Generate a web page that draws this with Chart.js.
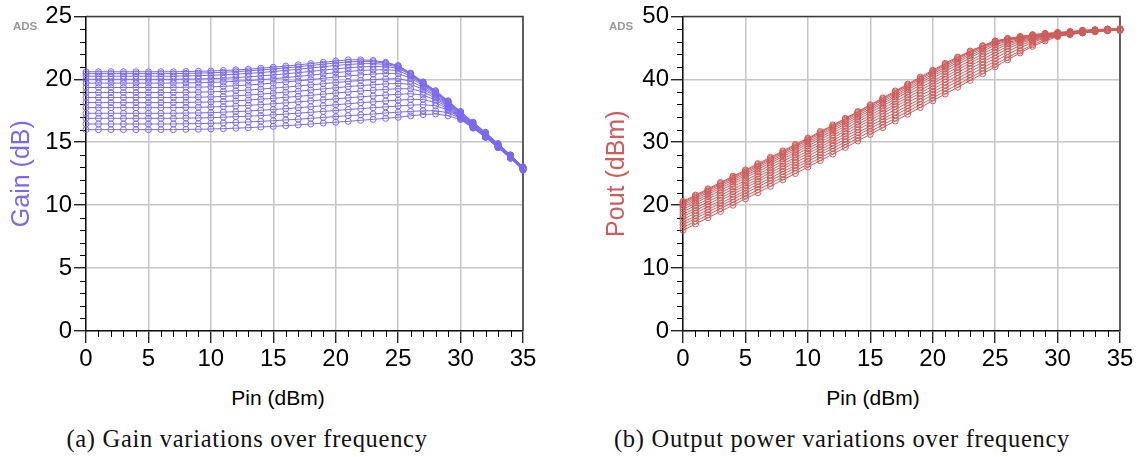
<!DOCTYPE html>
<html>
<head>
<meta charset="utf-8">
<script src="https://cdn.jsdelivr.net/npm/chart.js@4.4.1/dist/chart.umd.min.js"></script>
<style>
  body { margin: 0; background: #fff; }
  #page { position: relative; width: 1142px; height: 457px; overflow: hidden; }
  .panel { position: absolute; top: 0; width: 571px; height: 380px; }
  .ads { position: absolute; top: 20px; font: bold 11.5px "Liberation Sans", Arial, sans-serif; line-height: 13px; color: #9a9a9a; }
  .xtitle { position: absolute; top: 386px; font: 21px "Liberation Sans", Arial, sans-serif; line-height: 24px; color: #000; transform: translateX(-50%); white-space: nowrap; }
  .caption { position: absolute; top: 425px; font: 24.5px "Liberation Serif", "Times New Roman", serif; line-height: 28px; letter-spacing: 0.7px; color: #111; transform: translateX(-50%); white-space: nowrap; }
</style>
</head>
<body>
<div id="page">
  <div class="panel" style="left:0"><canvas id="gainChart" width="571" height="380"></canvas></div>
  <div class="panel" style="left:571px"><canvas id="poutChart" width="571" height="380"></canvas></div>
  <div class="ads" style="left:13px">ADS</div>
  <div class="ads" style="left:609px">ADS</div>
  <div class="xtitle" style="left:278px">Pin (dBm)</div>
  <div class="xtitle" style="left:873px">Pin (dBm)</div>
  <div class="caption" style="left:247px">(a) Gain variations over frequency</div>
  <div class="caption" style="left:842px">(b) Output power variations over frequency</div>
</div>
<script>
// input power sweep (dBm)
const pinValues = [0,1,2,3,4,5,6,7,8,9,10,11,12,13,14,15,16,17,18,19,20,21,22,23,24,25,26,27,28,29,30,31,32,33,34,35];

// gain (dB), one trace per frequency, top to bottom
const gainF01 = [20.6,20.6,20.6,20.6,20.6,20.6,20.6,20.6,20.62,20.64,20.66,20.7,20.75,20.8,20.88,20.96,21.05,21.15,21.25,21.35,21.45,21.55,21.55,21.5,21.35,21.1,20.5,19.8,19.1,18.3,17.45,16.6,15.8,14.9,14.0,13.05];
const gainF02 = [20.45,20.45,20.45,20.45,20.45,20.45,20.45,20.45,20.47,20.49,20.52,20.56,20.61,20.67,20.74,20.82,20.91,21.0,21.1,21.2,21.3,21.38,21.42,21.4,21.28,21.05,20.45,19.75,19.05,18.25,17.4,16.55,15.75,14.85,13.98,13.02];
const gainF03 = [20.25,20.25,20.25,20.25,20.25,20.25,20.25,20.25,20.27,20.29,20.32,20.36,20.41,20.47,20.54,20.62,20.71,20.8,20.9,21.0,21.1,21.18,21.24,21.25,21.18,20.98,20.4,19.7,19.0,18.2,17.35,16.5,15.7,14.82,13.95,13.0];
const gainF04 = [20.0,20.0,20.0,20.0,20.0,20.0,20.0,20.0,20.02,20.03,20.05,20.09,20.14,20.2,20.27,20.35,20.44,20.53,20.63,20.73,20.83,20.92,20.99,21.02,21.0,20.88,20.35,19.65,18.95,18.15,17.3,16.45,15.66,14.8,13.93,12.98];
const gainF05 = [19.7,19.7,19.7,19.7,19.7,19.7,19.7,19.7,19.72,19.73,19.75,19.79,19.84,19.9,19.97,20.05,20.14,20.23,20.33,20.43,20.53,20.62,20.7,20.75,20.76,20.7,20.25,19.6,18.9,18.1,17.25,16.42,15.63,14.77,13.9,12.96];
const gainF06 = [19.35,19.35,19.35,19.35,19.35,19.35,19.35,19.35,19.37,19.38,19.4,19.44,19.49,19.55,19.62,19.7,19.79,19.88,19.98,20.08,20.18,20.27,20.35,20.42,20.46,20.45,20.1,19.5,18.82,18.05,17.2,16.38,15.6,14.75,13.88,12.94];
const gainF07 = [18.95,18.95,18.95,18.95,18.95,18.95,18.95,18.95,18.97,18.98,19.0,19.04,19.09,19.15,19.22,19.3,19.38,19.47,19.56,19.65,19.74,19.83,19.91,19.98,20.03,20.05,19.85,19.35,18.72,17.98,17.15,16.34,15.57,14.72,13.86,12.92];
const gainF08 = [18.55,18.55,18.55,18.55,18.55,18.55,18.55,18.55,18.57,18.58,18.6,18.64,18.69,18.75,18.82,18.9,18.98,19.06,19.15,19.24,19.33,19.42,19.5,19.57,19.63,19.67,19.6,19.2,18.62,17.9,17.1,16.3,15.54,14.7,13.84,12.9];
const gainF09 = [18.15,18.15,18.15,18.15,18.15,18.15,18.15,18.15,18.17,18.18,18.2,18.24,18.29,18.35,18.42,18.49,18.57,18.65,18.73,18.82,18.91,18.99,19.07,19.14,19.2,19.25,19.25,19.0,18.5,17.82,17.05,16.26,15.5,14.67,13.82,12.88];
const gainF10 = [17.75,17.75,17.75,17.75,17.75,17.75,17.75,17.75,17.77,17.78,17.8,17.84,17.88,17.93,17.99,18.06,18.13,18.21,18.29,18.37,18.45,18.53,18.61,18.68,18.75,18.81,18.85,18.75,18.35,17.74,17.0,16.22,15.47,14.64,13.8,12.86];
const gainF11 = [17.3,17.3,17.3,17.3,17.3,17.3,17.3,17.3,17.32,17.33,17.35,17.39,17.43,17.48,17.54,17.6,17.67,17.74,17.82,17.9,17.98,18.06,18.14,18.21,18.28,18.34,18.4,18.4,18.15,17.65,16.96,16.19,15.44,14.62,13.78,12.84];
const gainF12 = [16.9,16.9,16.9,16.9,16.9,16.9,16.9,16.9,16.92,16.93,16.95,16.99,17.03,17.07,17.12,17.18,17.24,17.31,17.38,17.45,17.52,17.6,17.67,17.74,17.81,17.88,17.95,17.98,17.9,17.55,16.92,16.17,15.42,14.6,13.76,12.82];
const gainF13 = [16.45,16.45,16.45,16.45,16.45,16.45,16.45,16.45,16.47,16.48,16.5,16.53,16.57,16.61,16.66,16.71,16.77,16.83,16.9,16.97,17.04,17.11,17.18,17.25,17.32,17.39,17.45,17.5,17.5,17.35,16.88,16.15,15.4,14.58,13.74,12.8];
const gainF14 = [16.0,16.0,16.0,16.0,16.0,16.0,16.0,16.0,16.02,16.03,16.05,16.08,16.12,16.16,16.21,16.26,16.32,16.38,16.45,16.52,16.59,16.66,16.74,16.82,16.9,16.98,17.1,17.2,17.25,17.1,16.8,16.12,15.38,14.56,13.72,12.78];

const gainTraces = [gainF01,gainF02,gainF03,gainF04,gainF05,gainF06,gainF07,gainF08,gainF09,gainF10,gainF11,gainF12,gainF13,gainF14];
// output power of the same sweep: Pout = Pin + Gain
const poutTraces = gainTraces.map(g => g.map((v, i) => +(pinValues[i] + v).toFixed(2)));

// axis ticks
const pinTicks = [0,5,10,15,20,25,30,35];
const pinMinor = [1,2,3,4,6,7,8,9,11,12,13,14,16,17,18,19,21,22,23,24,26,27,28,29,31,32,33,34];
const gainTicks = [0,5,10,15,20,25];
const gainMinor = [1,2,3,4,6,7,8,9,11,12,13,14,16,17,18,19,21,22,23,24];
const poutTicks = [0,10,20,30,40,50];
const poutMinor = [2,4,6,8,12,14,16,18,22,24,26,28,32,34,36,38,42,44,46,48];

const sansFont = '"Liberation Sans", Arial, sans-serif';

// minor tick marks plus the top/right frame
const frameAndMinor = {
  id: 'frameAndMinor',
  beforeDatasetsDraw(chart, args, opts) {
    const { ctx, chartArea: a, scales: { x, y } } = chart;
    ctx.save();
    ctx.strokeStyle = '#000';
    ctx.lineWidth = 1;
    ctx.beginPath();
    opts.xMinor.forEach(v => {
      const px = Math.round(x.getPixelForValue(v)) + 0.5;
      ctx.moveTo(px, a.bottom);
      ctx.lineTo(px, a.bottom + 6);
    });
    opts.yMinor.forEach(v => {
      const py = Math.round(y.getPixelForValue(v)) + 0.5;
      ctx.moveTo(a.left - 6, py);
      ctx.lineTo(a.left, py);
    });
    ctx.stroke();
    ctx.strokeStyle = '#3a3a3a';
    ctx.lineWidth = 1.5;
    ctx.beginPath();
    ctx.moveTo(a.left, a.top);
    ctx.lineTo(a.right, a.top);
    ctx.lineTo(a.right, a.bottom);
    ctx.stroke();
    ctx.restore();
  }
};

function makeChart(id, traces, color, yTicks, yMinor, yMax, yTitle, yWidth, yTitlePad, rightPad) {
  const datasets = traces.map(t => ({
    data: t.map((v, i) => ({ x: pinValues[i], y: v })),
    borderColor: color,
    borderWidth: 1,
    pointStyle: 'circle',
    pointRadius: 3,
    pointBorderWidth: 1,
    pointBorderColor: color,
    pointBackgroundColor: 'rgba(0,0,0,0)',
    tension: 0,
    clip: false
  }));

  return new Chart(document.getElementById(id), {
    type: 'line',
    data: { datasets },
    plugins: [frameAndMinor],
    options: {
      responsive: false,
      animation: false,
      layout: { padding: { top: 16, right: rightPad, left: 0, bottom: 0 } },
      plugins: {
        legend: { display: false },
        tooltip: { enabled: false },
        frameAndMinor: { xMinor: pinMinor, yMinor: yMinor }
      },
      scales: {
        x: {
          type: 'linear',
          min: 0,
          max: 35,
          afterBuildTicks: s => { s.ticks = pinTicks.map(v => ({ value: v })); },
          afterFit: s => { s.height = 49; },
          ticks: { font: { family: sansFont, size: 24 }, color: '#000', padding: 2, maxRotation: 0 },
          grid: { color: '#c6c6c6', lineWidth: 1.5, tickLength: 12, tickColor: '#000', tickWidth: 1.2 },
          border: { display: true, color: '#111', width: 1.5 }
        },
        y: {
          type: 'linear',
          min: 0,
          max: yMax,
          afterBuildTicks: s => { s.ticks = yTicks.map(v => ({ value: v })); },
          afterFit: s => { s.width = yWidth; },
          ticks: { font: { family: sansFont, size: 24 }, color: '#000', padding: 2 },
          grid: { color: '#c6c6c6', lineWidth: 1.5, tickLength: 12, tickColor: '#000', tickWidth: 1.2 },
          border: { display: true, color: '#111', width: 1.5 },
          title: {
            display: true,
            text: yTitle,
            color: color,
            font: { family: sansFont, size: 25 },
            padding: { top: yTitlePad, bottom: 0 }
          }
        }
      }
    }
  });
}

makeChart('gainChart', gainTraces, '#7b68ee', gainTicks, gainMinor, 25, 'Gain (dB)', 86, 7, 48);
makeChart('poutChart', poutTraces, '#cd5c5c', poutTicks, poutMinor, 50, 'Pout (dBm)', 112, 31, 22);
</script>
</body>
</html>
